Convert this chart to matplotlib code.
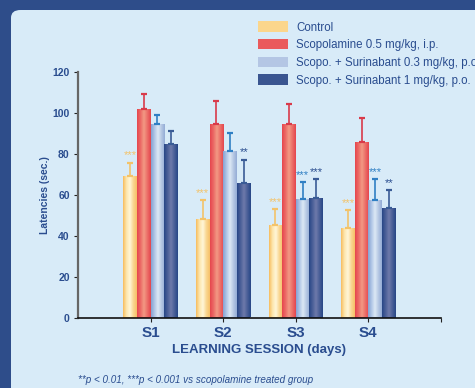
import matplotlib
matplotlib.use("Agg")
import matplotlib.pyplot as plt
import numpy as np
from matplotlib.patches import FancyBboxPatch
from matplotlib.colors import LinearSegmentedColormap

plt.rcParams['font.family'] = ['Liberation Sans', 'DejaVu Sans']

sessions = ["S1", "S2", "S3", "S4"]
groups = ["Control", "Scopolamine 0.5 mg/kg, i.p.",
          "Scopo. + Surinabant 0.3 mg/kg, p.o.", "Scopo. + Surinabant 1 mg/kg, p.o."]
control = [69.3, 48.2, 45.3, 43.8]
scopolamine = [102.1, 94.8, 94.8, 85.9]
surin_03 = [94.8, 81.5, 58.0, 57.5]
surin_1 = [85.0, 66.0, 58.5, 53.6]
control_err = [6.5, 9.2, 7.8, 8.7]
scopolamine_err = [7.5, 11.2, 9.9, 11.6]
surin_03_err = [4.2, 8.7, 8.4, 10.2]
surin_1_err = [6.2, 11.3, 9.2, 8.7]
stars_control = ["***", "***", "***", "***"]
stars_03 = ["", "", "***", "***"]
stars_1 = ["", "**", "***", "**"]

text_col = "#2a4d8f"
gradients = [
    ["#f7bd5e", "#fde6ae", "#fff6d8", "#f9d690", "#f6c068"],
    ["#e6464e", "#ec6a66", "#f29a84", "#ec6e68", "#e4464e"],
    ["#86a2d2", "#b0c6e6", "#dde9f5", "#b6c8e4", "#94acd6"],
    ["#274786", "#4a5f98", "#6e7aaa", "#4a5f98", "#274786"],
]
err_cols = ["#f3c36a", "#d93a4a", "#2f7fc4", "#3a5c96"]

fig = plt.figure(figsize=(4.75, 3.88), dpi=100)
fig.patch.set_facecolor("#2e4d8a")
panel = FancyBboxPatch((11 / 475, -0.05), 1.0, 0.05 + 1 - 10 / 388,
                       boxstyle="round,pad=0,rounding_size=0.02",
                       transform=fig.transFigure, facecolor="#d8ebf8",
                       edgecolor="none", zorder=-5)
fig.patches.append(panel)

ax = fig.add_axes([78 / 475, 70.5 / 388, 363 / 475, 245.2 / 388])
ax.set_facecolor("none")
ax.set_zorder(2)

x = np.arange(1, len(sessions) + 1)
w = 0.188
series = [control, scopolamine, surin_03, surin_1]
errs = [control_err, scopolamine_err, surin_03_err, surin_1_err]
offsets = [-1.5, -0.5, 0.5, 1.5]

for i, (vals, err) in enumerate(zip(series, errs)):
    cmap = LinearSegmentedColormap.from_list("g%d" % i, gradients[i])
    grad = np.linspace(0, 1, 64).reshape(1, -1)
    bars = ax.bar(x + offsets[i] * w, vals, w, color=gradients[i][0],
                  edgecolor="none", zorder=2)
    for b in bars:
        im = ax.imshow(grad, cmap=cmap, aspect="auto", zorder=2.5,
                       extent=[b.get_x(), b.get_x() + b.get_width(), 0, b.get_height()])
        im.set_clip_path(b)
    ax.errorbar(x + offsets[i] * w, vals, yerr=[np.zeros(len(vals)), err],
                fmt="none", ecolor=err_cols[i], elinewidth=1.2, capsize=2.5,
                capthick=1.6, zorder=3)

star_sets = [(0, stars_control, control, control_err, "#f3c36a"),
             (2, stars_03, surin_03, surin_03_err, "#2f7fc4"),
             (3, stars_1, surin_1, surin_1_err, "#2a4d8f")]
for idx, labels, vals, err, col in star_sets:
    for j, s in enumerate(labels):
        if s:
            ax.text(x[j] + offsets[idx] * w, vals[j] + err[j] + 3.5, s,
                    ha="center", va="center", fontsize=8, color=col)

ax.set_xlim(0, 5)
ax.set_ylim(0, 120)
ax.set_yticks(np.arange(0, 121, 20))
ax.set_xticks(list(x) + [5])
ax.set_xticklabels(sessions + [""])
for s in ["top", "right"]:
    ax.spines[s].set_visible(False)
ax.spines["left"].set_color("#666666")
ax.spines["left"].set_linewidth(1.6)
ax.spines["bottom"].set_color("#111111")
ax.spines["bottom"].set_linewidth(1.2)
ax.tick_params(axis="y", length=3, width=0.8, colors="#222222",
               labelcolor=text_col, labelsize=7.5, pad=3)
ax.tick_params(axis="x", length=3, width=0.8, colors="#222222",
               labelcolor=text_col, labelsize=11, pad=3)
for t in ax.get_xticklabels():
    t.set_fontweight("bold")
for t in ax.get_yticklabels():
    t.set_fontweight("bold")

ax.set_ylabel("Latencies (sec.)", fontsize=7.5, fontweight="bold",
              color=text_col, labelpad=2)
ax.set_xlabel("LEARNING SESSION (days)", fontsize=9.5, fontweight="bold",
              color=text_col, labelpad=3)

handles = [plt.Rectangle((0, 0), 1, 1, edgecolor="none") for g in gradients]
handles[0].set_facecolor("#fbd68c")
handles[1].set_facecolor("#ea5a5c")
handles[2].set_facecolor("#b4c6e4")
handles[3].set_facecolor("#3a5590")
leg = fig.legend(handles, groups, loc="upper left", bbox_to_anchor=(258 / 475, 1 - 21.5 / 388),
                 frameon=False, fontsize=8.3, handlelength=2.6, handleheight=1.0,
                 labelspacing=0.48, handletextpad=0.7, borderaxespad=0, borderpad=0)
for t in leg.get_texts():
    t.set_color(text_col)

fig.text(78 / 475, 1 - 380 / 388,
         "**p < 0.01, ***p < 0.001 vs scopolamine treated group",
         fontsize=7.1, style="italic", color=text_col, va="center")

fig.savefig("out.png", dpi=100, facecolor=fig.get_facecolor())
